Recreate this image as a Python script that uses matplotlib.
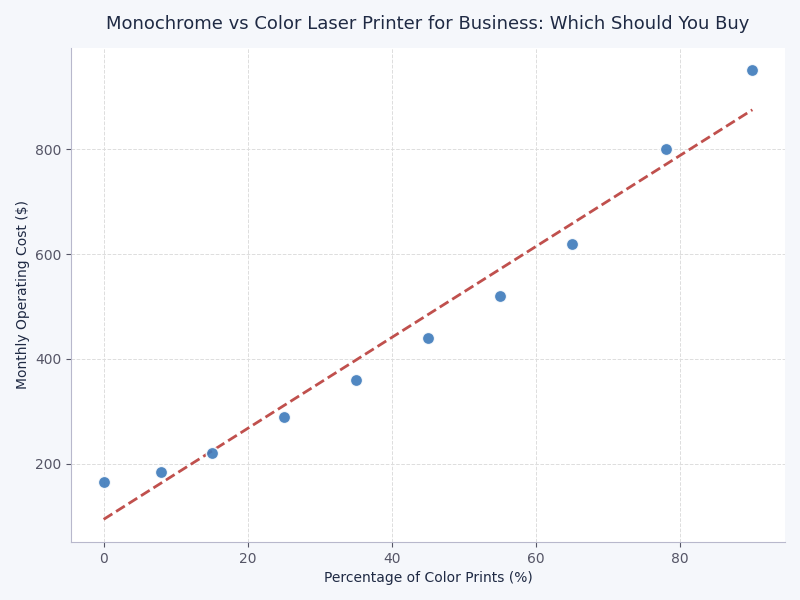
import numpy as np
import matplotlib.pyplot as plt

# Color print share vs monthly cost
color_pct = [0, 8, 15, 25, 35, 45, 55, 65, 78, 90]
monthly_cost = [165, 185, 220, 290, 360, 440, 520, 620, 800, 950]

fig, ax = plt.subplots(figsize=(8, 6), dpi=100)
fig.patch.set_facecolor('#f5f7fb')
ax.set_facecolor('white')

ax.scatter(color_pct, monthly_cost, s=80, color='#3d7abb', alpha=0.9, edgecolors='white',
           linewidths=1.2, zorder=3)

# Linear trend
slope, intercept = np.polyfit(color_pct, monthly_cost, 1)
xs = np.array([min(color_pct), max(color_pct)])
ax.plot(xs, slope * xs + intercept, '--', color='#c0504d', linewidth=2, zorder=2)

ax.set_title('Monochrome vs Color Laser Printer for Business: Which Should You Buy',
             fontsize=13, color='#1f2a44', pad=14)
ax.set_xlabel('Percentage of Color Prints (%)', fontsize=10, color='#1f2a44')
ax.set_ylabel('Monthly Operating Cost ($)', fontsize=10, color='#1f2a44')

ax.grid(True, linestyle='--', linewidth=0.7, color='#dddddd')
ax.set_axisbelow(True)
for side in ['top', 'right']:
    ax.spines[side].set_visible(False)
for side in ['left', 'bottom']:
    ax.spines[side].set_color('#b8b8cc')
ax.tick_params(colors='#555566', labelsize=10)
ax.tick_params(axis='both', color='#555566')

fig.subplots_adjust(left=0.089, right=0.981, top=0.92, bottom=0.097)
plt.savefig('out.png', dpi=100, facecolor=fig.get_facecolor())
